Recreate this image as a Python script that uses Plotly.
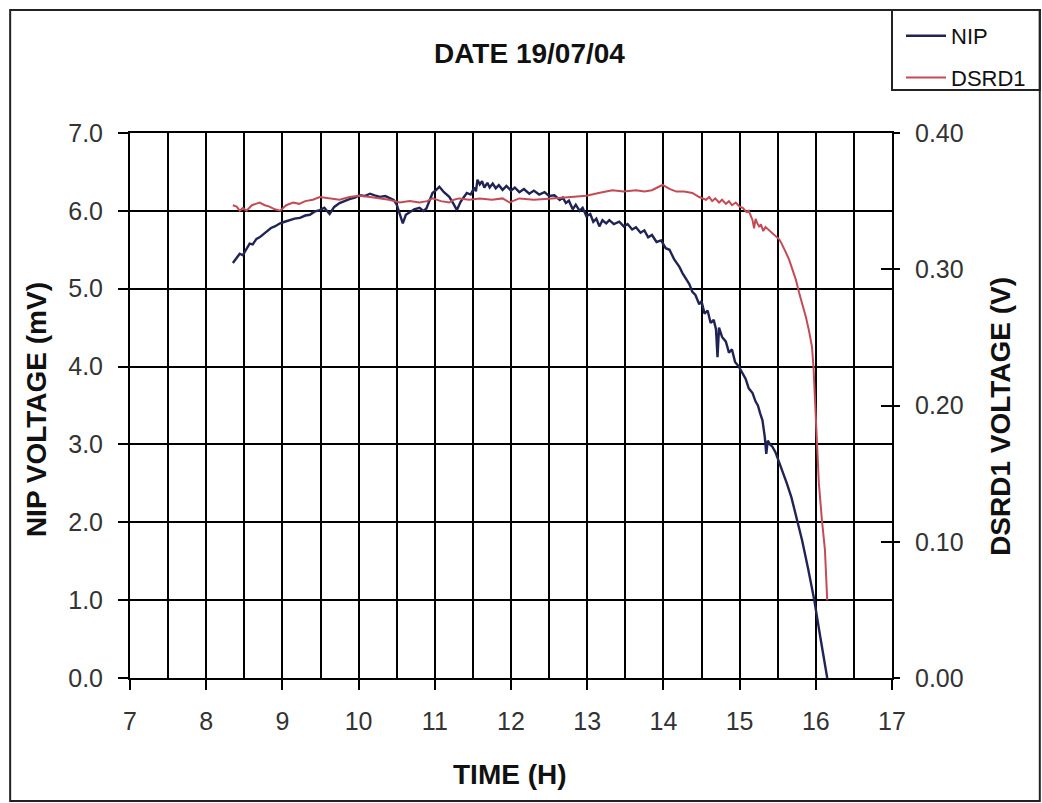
import plotly.graph_objects as go

# NIP pyranometer voltage (mV) against time of day (hours)
nip_time = [
    8.35, 8.40, 8.44, 8.48, 8.53, 8.57, 8.61, 8.66, 8.70, 8.75,
    8.80, 8.85, 8.90, 8.97, 9.03, 9.10, 9.16, 9.23, 9.30, 9.36,
    9.42, 9.49, 9.55, 9.62, 9.68, 9.75, 9.82, 9.88, 9.95, 10.01,
    10.08, 10.15, 10.21, 10.28, 10.35, 10.41, 10.46, 10.50, 10.54, 10.58,
    10.62, 10.67, 10.73, 10.80, 10.85, 10.89, 10.93, 10.97, 11.02, 11.06,
    11.12, 11.19, 11.24, 11.29, 11.34, 11.38, 11.42, 11.47, 11.52, 11.54,
    11.56, 11.59, 11.62, 11.65, 11.69, 11.72, 11.76, 11.80, 11.84, 11.89,
    11.94, 12.00, 12.05, 12.11, 12.17, 12.24, 12.30, 12.37, 12.44, 12.50,
    12.57, 12.64, 12.68, 12.72, 12.76, 12.81, 12.85, 12.90, 12.94, 12.99,
    13.04, 13.08, 13.12, 13.16, 13.20, 13.25, 13.29, 13.35, 13.42, 13.48,
    13.53, 13.59, 13.64, 13.70, 13.75, 13.80, 13.85, 13.91, 13.97, 14.03,
    14.08, 14.14, 14.21, 14.25, 14.30, 14.34, 14.38, 14.42, 14.47, 14.50,
    14.54, 14.58, 14.62, 14.66, 14.69, 14.71, 14.73, 14.77, 14.82, 14.86,
    14.90, 14.94, 14.99, 15.04, 15.08, 15.12, 15.17, 15.21, 15.24, 15.27,
    15.30, 15.33, 15.35, 15.37, 15.40, 15.43, 15.47, 15.50, 15.56, 15.62,
    15.68, 15.75, 15.82, 15.90, 15.98, 16.06, 16.15,
]
nip_mv = [
    5.33, 5.40, 5.45, 5.43, 5.52, 5.58, 5.57, 5.64, 5.66, 5.70,
    5.74, 5.78, 5.80, 5.84, 5.86, 5.88, 5.90, 5.91, 5.94, 5.95,
    5.99, 6.01, 6.04, 5.96, 6.05, 6.10, 6.13, 6.15, 6.17, 6.20,
    6.19, 6.22, 6.20, 6.18, 6.19, 6.16, 6.14, 6.08, 5.96, 5.84,
    5.95, 5.98, 6.02, 6.04, 6.00, 6.03, 6.12, 6.23, 6.27, 6.31,
    6.24, 6.18, 6.10, 6.01, 6.12, 6.18, 6.23, 6.21, 6.30, 6.25,
    6.40, 6.34, 6.38, 6.30, 6.36, 6.30, 6.35, 6.29, 6.33, 6.27,
    6.32, 6.26, 6.30, 6.24, 6.28, 6.22, 6.26, 6.21, 6.24, 6.19,
    6.20, 6.14, 6.17, 6.10, 6.13, 6.02, 6.08, 6.00, 6.04, 5.93,
    5.96, 5.86, 5.90, 5.80, 5.88, 5.84, 5.88, 5.83, 5.86, 5.80,
    5.83, 5.76, 5.79, 5.72, 5.75, 5.66, 5.69, 5.60, 5.62, 5.52,
    5.50, 5.38, 5.28, 5.20, 5.12, 5.06, 4.96, 4.92, 4.80, 4.84,
    4.68, 4.72, 4.56, 4.60, 4.48, 4.12, 4.50, 4.38, 4.32, 4.18,
    4.22, 4.06, 4.00, 3.90, 3.84, 3.72, 3.66, 3.55, 3.50, 3.40,
    3.31, 3.10, 2.88, 3.05, 3.00, 2.97, 2.90, 2.82, 2.67, 2.50,
    2.32, 2.05, 1.77, 1.40, 1.00, 0.52, 0.00,
]

# DSRD1 detector voltage (V) against time of day (hours)
dsrd_time = [
    8.35, 8.40, 8.44, 8.48, 8.53, 8.60, 8.70, 8.77, 8.83, 8.90,
    8.97, 9.05, 9.14, 9.22, 9.30, 9.40, 9.49, 9.60, 9.75, 9.88,
    10.01, 10.15, 10.28, 10.40, 10.54, 10.67, 10.80, 10.90, 10.97, 11.08,
    11.19, 11.25, 11.32, 11.45, 11.59, 11.75, 11.89, 11.98, 12.11, 12.30,
    12.54, 12.75, 12.99, 13.15, 13.33, 13.48, 13.64, 13.75, 13.85, 13.92,
    13.99, 14.08, 14.17, 14.27, 14.38, 14.47, 14.56, 14.60, 14.64, 14.68,
    14.73, 14.77, 14.82, 14.86, 14.90, 14.95, 15.00, 15.04, 15.09, 15.12,
    15.15, 15.17, 15.19, 15.21, 15.23, 15.26, 15.28, 15.31, 15.34, 15.40,
    15.45, 15.48, 15.52, 15.55, 15.58, 15.61, 15.65, 15.69, 15.74, 15.78,
    15.83, 15.87, 15.91, 15.95, 15.97, 15.98, 16.00, 16.02, 16.04, 16.08,
    16.12, 16.15,
]
dsrd_v = [
    0.347, 0.346, 0.343, 0.345, 0.343, 0.347, 0.349, 0.347, 0.346, 0.344,
    0.343, 0.347, 0.349, 0.348, 0.350, 0.351, 0.353, 0.352, 0.351, 0.353,
    0.354, 0.353, 0.352, 0.351, 0.349, 0.350, 0.349, 0.350, 0.352, 0.350,
    0.349, 0.351, 0.352, 0.351, 0.352, 0.351, 0.352, 0.349, 0.352, 0.351,
    0.352, 0.353, 0.354, 0.356, 0.358, 0.357, 0.358, 0.357, 0.358, 0.360,
    0.362, 0.359, 0.357, 0.357, 0.356, 0.353, 0.351, 0.353, 0.350, 0.352,
    0.349, 0.351, 0.348, 0.350, 0.347, 0.349, 0.346, 0.345, 0.342, 0.343,
    0.339, 0.336, 0.330, 0.337, 0.334, 0.331, 0.333, 0.328, 0.331, 0.328,
    0.326, 0.324, 0.322, 0.319, 0.316, 0.312, 0.307, 0.300, 0.292, 0.283,
    0.274, 0.265, 0.255, 0.243, 0.228, 0.217, 0.197, 0.170, 0.143, 0.116,
    0.094, 0.057,
]

assert len(nip_time) == len(nip_mv)
assert len(dsrd_time) == len(dsrd_v)

x_ticks = list(range(7, 18))
left_ticks = [0, 1, 2, 3, 4, 5, 6, 7]
right_ticks = [0.0, 0.1, 0.2, 0.3, 0.4]

NIP_COLOR = "#1f2455"
DSRD_COLOR = "#c44b56"
FONT = "Liberation Sans, Arial, sans-serif"
TICK_FONT = dict(family=FONT, size=25, color="#333333")
BOLD_FONT = dict(family=FONT, size=28, color="#111111")

# plot-area geometry in pixels, used to place text around it
L, R, T, B = 130, 893, 133, 678
W, H = R - L, B - T


def px(xp):
    return (xp - L) / W


def py(yp):
    return (B - yp) / H


fig = go.Figure()

fig.add_trace(go.Scatter(
    x=nip_time, y=nip_mv, name="NIP", mode="lines",
    line=dict(color=NIP_COLOR, width=2.4), yaxis="y", legendgroup="a",
))
fig.add_trace(go.Scatter(
    x=dsrd_time, y=dsrd_v, name="DSRD1", mode="lines",
    line=dict(color=DSRD_COLOR, width=2), yaxis="y2", legendgroup="b",
))
# invisible trace so the tick-only axis is drawn
fig.add_trace(go.Scatter(x=[7], y=[0], yaxis="y3", mode="markers",
                         marker=dict(opacity=0), showlegend=False, hoverinfo="skip"))

fig.update_layout(
    width=1042, height=803,
    margin=dict(l=L, r=1042 - R, t=T, b=803 - B),
    paper_bgcolor="white", plot_bgcolor="white",
    showlegend=True,
    legend=dict(
        x=px(901), y=py(15), xanchor="left", yanchor="top",
        font=dict(family=FONT, size=22, color="#111"),
        bgcolor="rgba(0,0,0,0)", borderwidth=0,
        tracegroupgap=10, itemwidth=40,
    ),
    xaxis=dict(
        range=[7, 17], tickvals=x_ticks, ticktext=[str(v) for v in x_ticks],
        ticks="outside", ticklen=10, tickwidth=2, tickcolor="black",
        ticklabelstandoff=10,
        showgrid=True, gridcolor="black", gridwidth=2,
        minor=dict(dtick=0.5, showgrid=True, gridcolor="black", gridwidth=2),
        showline=True, linecolor="black", linewidth=2, mirror=True,
        zeroline=False, tickfont=TICK_FONT,
    ),
    yaxis=dict(
        range=[0, 7], tickvals=left_ticks, ticktext=[f"{v:.1f}" for v in left_ticks],
        ticks="outside", ticklen=10, tickwidth=2, tickcolor="black",
        ticklabelstandoff=10,
        showgrid=True, gridcolor="black", gridwidth=2,
        showline=True, linecolor="black", linewidth=2, mirror=True,
        zeroline=False, tickfont=TICK_FONT,
    ),
    yaxis2=dict(
        range=[0, 0.4], tickvals=right_ticks, ticktext=[f"{v:.2f}" for v in right_ticks],
        overlaying="y", side="right",
        ticks="outside", ticklen=6, tickwidth=2, tickcolor="black",
        ticklabelstandoff=10,
        showgrid=False, showline=True, linecolor="black", linewidth=2,
        zeroline=False, tickfont=TICK_FONT,
    ),
    # inner half of the crossing ticks on the right-hand scale
    yaxis3=dict(
        range=[0, 0.4], tickvals=right_ticks, overlaying="y", side="right",
        ticks="inside", ticklen=11, tickwidth=2, tickcolor="black",
        showticklabels=False, showgrid=False, showline=False, zeroline=False,
    ),
    annotations=[
        dict(text="<b>DATE 19/07/04</b>", xref="paper", yref="paper",
             x=px(530), y=py(53), xanchor="center", yanchor="middle",
             showarrow=False, font=BOLD_FONT),
        dict(text="<b>TIME (H)</b>", xref="paper", yref="paper",
             x=px(510), y=py(774), xanchor="center", yanchor="middle",
             showarrow=False, font=BOLD_FONT),
        dict(text="<b>NIP VOLTAGE (mV)</b>", xref="paper", yref="paper",
             x=px(36), y=py(410), xanchor="center", yanchor="middle",
             textangle=-90, showarrow=False, font=BOLD_FONT),
        dict(text="<b>DSRD1 VOLTAGE (V)</b>", xref="paper", yref="paper",
             x=px(1001), y=py(416), xanchor="center", yanchor="middle",
             textangle=-90, showarrow=False, font=BOLD_FONT),
    ],
    shapes=[
        # outer frame of the chart
        dict(type="rect", xref="paper", yref="paper",
             x0=px(10), x1=px(1041), y0=py(801), y1=py(10),
             line=dict(color="#222", width=2), layer="below"),
        # legend frame
        dict(type="rect", xref="paper", yref="paper",
             x0=px(893), x1=px(1041), y0=py(90), y1=py(10),
             line=dict(color="#222", width=2), layer="below"),
    ],
)

fig.write_html("out.html")
